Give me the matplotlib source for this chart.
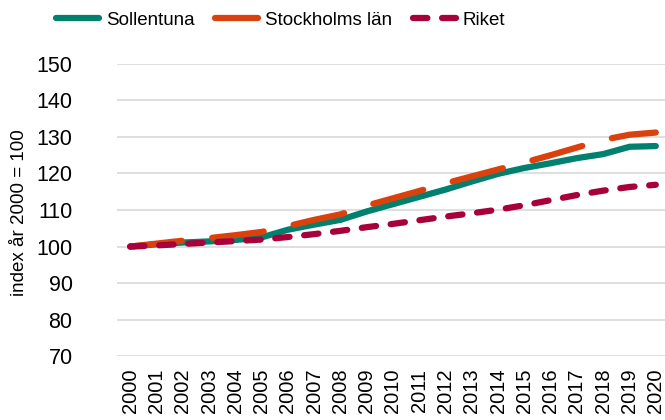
import matplotlib
matplotlib.use("Agg")
import matplotlib.pyplot as plt

plt.rcParams['font.family'] = ['Liberation Sans', 'DejaVu Sans']

# data
years = list(range(2000, 2021))
sollentuna = [100, 100.6, 101.1, 101.4, 101.8, 102.5, 104.6, 106.0, 107.3, 109.6, 111.6,
              113.6, 115.6, 117.8, 119.9, 121.5, 122.8, 124.2, 125.3, 127.3, 127.5]
stockholm = [100, 100.8, 101.6, 102.3, 103.1, 104.0, 105.6, 107.3, 108.8, 111.2, 113.2,
             115.2, 117.3, 119.2, 121.1, 123.0, 125.0, 127.1, 129.2, 130.6, 131.2]
riket = [100, 100.3, 100.7, 101.1, 101.5, 101.9, 102.6, 103.4, 104.3, 105.3, 106.2,
         107.2, 108.2, 109.1, 110.1, 111.3, 112.7, 114.1, 115.3, 116.3, 116.9]
yticks = list(range(70, 151, 10))

fig = plt.figure(figsize=(6.65, 4.2), dpi=100)
ax = fig.add_axes([0.176, 0.152, 0.824, 0.696])

ax.plot(years, sollentuna, color='#00806E', lw=4.5, solid_capstyle='round',
        label='Sollentuna', zorder=3)
ax.plot(years, stockholm, color='#D9410E', lw=4.5, dash_capstyle='round',
        linestyle=(0, (8.3, 4.9)), label='Stockholms län', zorder=4)
ax.plot(years, riket, color='#A8003A', lw=4.5, dash_capstyle='round',
        linestyle=(0, (2.3, 2.35)), label='Riket', zorder=5)

ax.set_xlim(1999.5, 2020.35)
ax.set_ylim(70, 150)
ax.set_yticks(yticks)
ax.set_xticks(years)
ax.set_xticklabels([str(y) for y in years], rotation=90, fontsize=14.5)
ax.tick_params(axis='y', labelsize=15.5, length=0, pad=32)
ax.tick_params(axis='x', length=0, pad=9)
ax.grid(axis='y', color='#D9D9D9', lw=1.2)
ax.set_axisbelow(True)
for s in ax.spines.values():
    s.set_visible(False)

ax.set_ylabel('index år 2000 = 100', fontsize=13.5)
ax.yaxis.set_label_coords(-0.163, 0.49)

fig.legend(loc='upper center', bbox_to_anchor=(0.422, 1.012), ncol=3, frameon=False,
           fontsize=13.5, handlelength=2.3, handletextpad=0.35, columnspacing=1.1)

fig.savefig('out.png', dpi=100)
